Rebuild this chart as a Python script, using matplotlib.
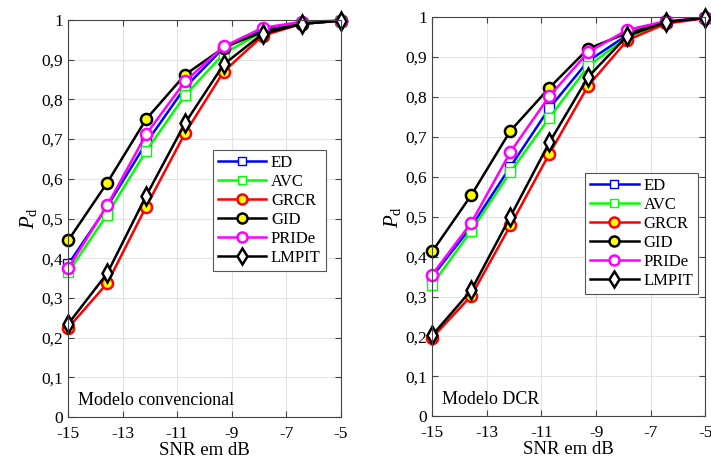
import numpy as np
import matplotlib.pyplot as plt
from matplotlib.ticker import FuncFormatter

plt.rcParams['font.family'] = ['Liberation Serif', 'DejaVu Serif']
plt.rcParams['mathtext.fontset'] = 'custom'
plt.rcParams['mathtext.rm'] = 'Liberation Serif'
plt.rcParams['mathtext.it'] = 'Liberation Serif:italic'
plt.rcParams['axes.unicode_minus'] = False

snr = [-15, -13.57, -12.14, -10.71, -9.29, -7.86, -6.43, -5]

# Modelo convencional
conv_ed = [0.385, 0.530, 0.690, 0.830, 0.930, 0.975, 0.993, 0.998]
conv_avc = [0.365, 0.510, 0.670, 0.810, 0.915, 0.970, 0.992, 0.998]
conv_grcr = [0.225, 0.337, 0.530, 0.715, 0.870, 0.960, 0.990, 0.998]
conv_gid = [0.445, 0.590, 0.750, 0.862, 0.930, 0.970, 0.990, 0.998]
conv_pride = [0.375, 0.533, 0.712, 0.845, 0.933, 0.980, 0.995, 0.998]
conv_lmpit = [0.235, 0.362, 0.557, 0.740, 0.888, 0.965, 0.990, 0.998]

# Modelo DCR
dcr_ed = [0.350, 0.475, 0.625, 0.772, 0.890, 0.955, 0.988, 0.998]
dcr_avc = [0.330, 0.465, 0.612, 0.748, 0.877, 0.950, 0.987, 0.998]
dcr_grcr = [0.197, 0.302, 0.478, 0.658, 0.828, 0.942, 0.984, 0.997]
dcr_gid = [0.413, 0.554, 0.715, 0.823, 0.921, 0.960, 0.988, 0.998]
dcr_pride = [0.355, 0.485, 0.662, 0.802, 0.912, 0.968, 0.990, 0.998]
dcr_lmpit = [0.203, 0.316, 0.500, 0.686, 0.850, 0.953, 0.988, 0.998]

names = ['ED', 'AVC', 'GRCR', 'GID', 'PRIDe', 'LMPIT']
styles = [
    dict(color='#0000ff', marker='s', mfc='white', mec='#0000ff', ms=6.5),
    dict(color='#00ff00', marker='s', mfc='white', mec='#00ff00', ms=6.5),
    dict(color='#ff0000', marker='o', mfc='#ffff00', mec='#ff0000', ms=8, mew=1.8),
    dict(color='black', marker='o', mfc='#ffff00', mec='black', ms=8, mew=1.8),
    dict(color='#ff00ff', marker='o', mfc='white', mec='#ff00ff', ms=8, mew=1.8),
    dict(color='black', marker='d', mfc='white', mec='black', ms=9, mew=1.8),
]

fig = plt.figure(figsize=(7.11, 4.62), dpi=100)
ax1 = fig.add_axes([0.096, 0.097, 0.383, 0.860])
ax2 = fig.add_axes([0.608, 0.099, 0.384, 0.864])

panels = [
    (ax1, [conv_ed, conv_avc, conv_grcr, conv_gid, conv_pride, conv_lmpit],
     'Modelo convencional', (0.53, 0.673)),
    (ax2, [dcr_ed, dcr_avc, dcr_grcr, dcr_gid, dcr_pride, dcr_lmpit],
     'Modelo DCR', (0.56, 0.61)),
]

comma = FuncFormatter(lambda v, p: ('%g' % round(v, 1)).replace('.', ','))

for ax, series, label, legpos in panels:
    for name, ys, st in zip(names, series, styles):
        ax.plot(snr, ys, lw=1.8, label=name, clip_on=False, **st)
    ax.set_xlim(-15, -5)
    ax.set_ylim(0, 1)
    ax.set_xticks([-15, -13, -11, -9, -7, -5])
    ax.set_yticks(np.arange(0, 1.01, 0.1))
    ax.yaxis.set_major_formatter(comma)
    ax.grid(True, color='#e3e3e3', lw=0.8)
    ax.set_axisbelow(True)
    ax.tick_params(direction='in', top=True, right=True, labelsize=12.5,
                   color='#444444', length=4)
    ax.tick_params(axis='x', pad=6)
    for s in ax.spines.values():
        s.set_color('#444444')
        s.set_linewidth(0.8)
    ax.set_xlabel('SNR em dB', fontsize=13.5, labelpad=0)
    ax.set_ylabel(r'$P_\mathrm{d}$', fontsize=15, labelpad=2)
    ax.text(0.035, 0.02, label, transform=ax.transAxes, fontsize=13,
            ha='left', va='bottom')
    leg = ax.legend(loc='upper left', bbox_to_anchor=legpos, fontsize=12,
                    fancybox=False, framealpha=1, edgecolor='#555555',
                    handlelength=2.9, handletextpad=0.3, borderpad=0.3,
                    labelspacing=0.18, borderaxespad=0, markerscale=0.9)
    leg.get_frame().set_linewidth(0.8)

fig.savefig('out.png', dpi=100)
